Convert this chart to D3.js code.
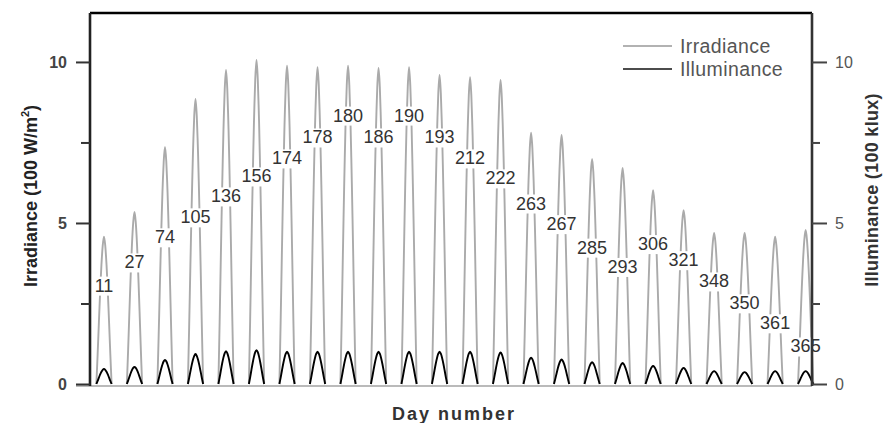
<!DOCTYPE html>
<html><head><meta charset="utf-8">
<script src="https://cdn.jsdelivr.net/npm/d3@7/dist/d3.min.js"></script>
<style>
html,body{margin:0;padding:0;background:#fff;}
svg text{font-family:"Liberation Sans",Arial,sans-serif;}
</style></head>
<body><svg id="c" width="885" height="423"></svg>
<script>
// ---- data ----
const days = [11,27,74,105,136,156,174,178,180,186,190,193,212,222,263,267,285,293,306,321,348,350,361,365];
const irradiancePeak = [4.57,5.34,7.36,8.85,9.75,10.06,9.88,9.84,9.88,9.81,9.84,9.6,9.53,9.44,7.8,7.73,6.99,6.71,6.02,5.4,4.69,4.69,4.57,4.78];
const illuminancePeak = [0.47,0.53,0.75,0.93,1.02,1.05,1.0,1.0,1.0,1.0,1.0,1.0,1.0,0.98,0.82,0.76,0.68,0.65,0.56,0.5,0.4,0.37,0.4,0.4];
const labelLevel = [3.07,3.79,4.57,5.19,5.84,6.46,7.02,7.67,8.35,7.67,8.35,7.67,7.02,6.4,5.62,4.98,4.25,3.65,4.36,3.86,3.2,2.52,1.9,1.18];
const profileHours = [6,7,8,9,10,11,12,13,14,15,16,17,18];
const profileShape = [0,0.2,0.42,0.63,0.81,0.94,1,0.94,0.81,0.63,0.42,0.2,0];
const leftTicks = [0,5,10];
const rightTicks = [0,5,10];
const minorTicks = [2.5,7.5];

const svg = d3.select("#c");
const L=90,R=812,T=13,B=384;
const x = d3.scaleLinear().domain([1,569]).range([L,R]);
const y = d3.scaleLinear().domain([0,11.52]).range([B,T]);
const y2 = d3.scaleLinear().domain([0,11.52]).range([B,T]);

const line = d3.line().x(d=>x(d[0])).y(d=>y(d[1])).curve(d3.curveCardinal.tension(0.2));

function dayPts(i, peak){
  return profileHours.map((h,k)=>[i*24+h, peak*profileShape[k]]);
}

const g = svg.append("g");
// irradiance curves
days.forEach((d,i)=>{
  g.append("path").attr("d", line(dayPts(i, irradiancePeak[i])))
   .attr("fill","none").attr("stroke","#aaaaaa").attr("stroke-width",1.9);
});
// illuminance curves
days.forEach((d,i)=>{
  g.append("path").attr("d", line(dayPts(i, illuminancePeak[i])))
   .attr("fill","none").attr("stroke","#000").attr("stroke-width",1.9);
});

// day labels
days.forEach((d,i)=>{
  const cx = x(i*24+12), cy = y(labelLevel[i]);
  const t = svg.append("text").attr("x",cx).attr("y",cy+6.5).attr("text-anchor","middle")
    .attr("font-size",18).attr("fill","#333").text(d);
  const bb = t.node().getBBox();
  svg.insert("rect", function(){return t.node();})
    .attr("x",bb.x-2).attr("y",bb.y+1).attr("width",bb.width+4).attr("height",bb.height-1)
    .attr("fill","#fff");
});

// frame
svg.append("line").attr("x1",L).attr("x2",R).attr("y1",T).attr("y2",T).attr("stroke","#000").attr("stroke-width",2.4);
svg.append("line").attr("x1",76).attr("x2",R).attr("y1",B+2).attr("y2",B+2).attr("stroke","#777").attr("stroke-width",1.2);

// left axis
const la = svg.append("g").attr("transform",`translate(${L},0)`)
  .call(d3.axisLeft(y).tickValues(leftTicks).tickSize(14).tickFormat(d3.format("d")));
la.select(".domain").attr("stroke","#222").attr("stroke-width",2.6).attr("d",`M0,${T}V${B+2}`);
la.selectAll(".tick line").attr("stroke","#333").attr("stroke-width",2);
la.selectAll(".tick text").attr("font-size",16).attr("font-weight","bold").attr("fill","#444").attr("x",-23)
  .attr("font-family","Liberation Sans, Arial, sans-serif");
svg.append("g").attr("transform",`translate(${L},0)`)
  .call(d3.axisLeft(y).tickValues(minorTicks).tickSize(9).tickFormat(""))
  .call(s=>s.select(".domain").remove())
  .selectAll(".tick line").attr("stroke","#333").attr("stroke-width",2);

// right axis
const ra = svg.append("g").attr("transform",`translate(${R},0)`)
  .call(d3.axisRight(y2).tickValues(rightTicks).tickSize(15).tickFormat(d3.format("d")));
ra.select(".domain").attr("stroke","#333").attr("stroke-width",2.6).attr("d",`M0,${T}V${B+2}`);
ra.selectAll(".tick line").attr("stroke","#444").attr("stroke-width",2);
ra.selectAll(".tick text").attr("font-size",16).attr("fill","#555").attr("x",23)
  .attr("font-family","Liberation Sans, Arial, sans-serif");
svg.append("g").attr("transform",`translate(${R},0)`)
  .call(d3.axisRight(y2).tickValues(minorTicks).tickSize(8).tickFormat(""))
  .call(s=>s.select(".domain").remove())
  .selectAll(".tick line").attr("stroke","#444").attr("stroke-width",2);

// axis titles
const lt = svg.append("text").attr("transform","translate(37,196) rotate(-90)").attr("text-anchor","middle")
  .attr("font-size",18).attr("font-weight","bold").attr("fill","#222");
lt.append("tspan").text("Irradiance (100 W/m");
lt.append("tspan").attr("font-size",11).attr("dy",-8).text("2");
lt.append("tspan").attr("dy",8).text(")");
svg.append("text").attr("transform","translate(878,190) rotate(-90)").attr("text-anchor","middle")
  .attr("font-size",18).attr("font-weight","bold").attr("fill","#333").attr("letter-spacing",0.3).text("Illuminance (100 klux)");
svg.append("text").attr("x",454).attr("y",420).attr("text-anchor","middle")
  .attr("font-size",18).attr("font-weight","bold").attr("fill","#333").attr("letter-spacing",2).text("Day number");

// legend
const leg = [["Irradiance","#999",46],["Illuminance","#111",69]];
leg.forEach(([name,col,ly])=>{
  svg.append("line").attr("x1",623).attr("x2",672).attr("y1",ly).attr("y2",ly).attr("stroke",col).attr("stroke-width",1.5);
  svg.append("text").attr("x",680).attr("y",ly+6.5).attr("font-size",19.5).attr("fill","#555").attr("letter-spacing",0.4).text(name);
});
</script></body></html>
